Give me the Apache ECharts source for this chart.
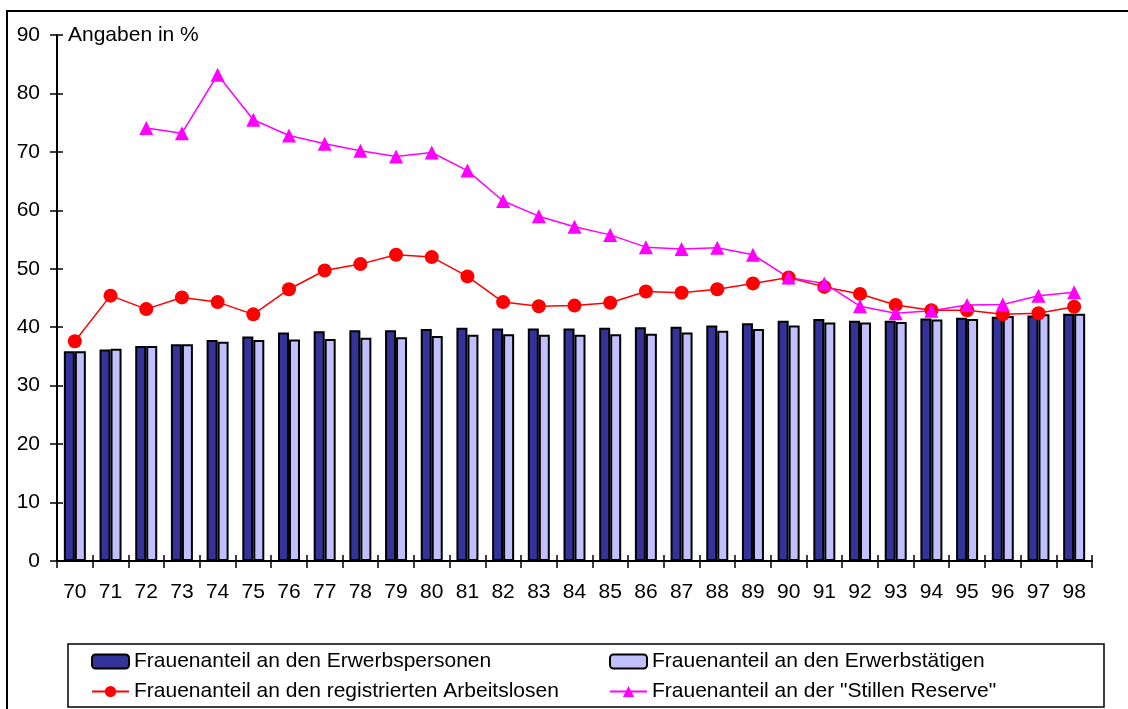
<!DOCTYPE html>
<html>
<head>
<meta charset="utf-8">
<style>
  html, body { margin: 0; padding: 0; background: #fff; }
  #chart { width: 1128px; height: 709px; }
</style>
<script src="https://cdn.jsdelivr.net/npm/echarts@6/dist/echarts.min.js"></script>
</head>
<body>
<div id="chart"></div>
<script>
// Jahre (19xx)
const years = ['70','71','72','73','74','75','76','77','78','79','80','81','82','83','84','85','86','87','88','89','90','91','92','93','94','95','96','97','98']

// Angaben in %
const erwerbspersonen = [35.9,36.2,36.8,37.1,37.8,38.4,39.1,39.3,39.5,39.5,39.7,39.9,39.8,39.8,39.8,39.9,40.0,40.1,40.3,40.7,41.1,41.4,41.1,41.1,41.5,41.6,41.8,42.0,42.3]
const erwerbstaetige = [35.9,36.3,36.8,37.1,37.5,37.8,37.9,38.0,38.2,38.3,38.5,38.7,38.8,38.7,38.7,38.8,38.9,39.1,39.4,39.7,40.3,40.8,40.8,40.9,41.3,41.4,41.9,42.2,42.3]
const arbeitslose = [37.6,45.4,43.1,45.1,44.3,42.2,46.5,49.7,50.8,52.4,52.0,48.7,44.3,43.6,43.7,44.2,46.1,45.9,46.5,47.5,48.5,46.9,45.7,43.8,42.9,42.9,42.2,42.4,43.5]
const stilleReserve = [null,null,74.1,73.2,83.2,75.5,72.8,71.4,70.2,69.2,69.9,66.8,61.6,59.0,57.2,55.8,53.7,53.4,53.6,52.4,48.5,47.5,43.6,42.4,42.8,43.8,43.9,45.4,46.0]

const names = [
  'Frauenanteil an den Erwerbspersonen',
  'Frauenanteil an den Erwerbstätigen',
  'Frauenanteil an den registrierten Arbeitslosen',
  'Frauenanteil an der "Stillen Reserve"'
]

const font = 'Liberation Sans, Arial, sans-serif'
const chart = echarts.init(document.getElementById('chart'))

chart.setOption({
  animation: false,
  textStyle: { fontFamily: font },
  grid: { left: 57, right: 36, top: 35, bottom: 148 },
  graphic: [
    // Rahmen
    { type: 'rect', shape: { x: 7, y: 11, width: 1140, height: 720 },
      style: { fill: 'none', stroke: '#000', lineWidth: 2 } },
    // Legendenkasten
    { type: 'rect', shape: { x: 68, y: 644, width: 1036, height: 63 },
      style: { fill: 'none', stroke: '#000', lineWidth: 1.5 } }
  ],
  legend: [
    {
      data: [names[0], names[2]],
      orient: 'vertical',
      left: 91, top: 651,
      padding: 0,
      itemWidth: 37, itemHeight: 14,
      itemGap: 9, itemTextGap: 4,
      textStyle: { fontSize: 21, lineHeight: 20, color: '#000', fontFamily: font }
    },
    {
      data: [names[1], names[3]],
      orient: 'vertical',
      left: 609, top: 651,
      padding: 0,
      itemWidth: 37, itemHeight: 14,
      itemGap: 9, itemTextGap: 4,
      textStyle: { fontSize: 21, lineHeight: 20, color: '#000', fontFamily: font }
    }
  ],
  xAxis: [
    {
      type: 'category',
      data: years,
      axisLine: { lineStyle: { color: '#000', width: 2 } },
      axisTick: { show: true, length: 7, lineStyle: { color: '#000', width: 1.5 } },
      axisLabel: { color: '#000', fontSize: 21, margin: 21, fontFamily: font },
      splitLine: { show: false }
    },
    {
      type: 'category',
      data: years,
      position: 'bottom',
      axisLine: { show: false },
      axisTick: { show: true, inside: true, length: 6, lineStyle: { color: '#000', width: 1.5 } },
      axisLabel: { show: false },
      splitLine: { show: false }
    }
  ],
  yAxis: [
    {
      type: 'value',
      min: 0, max: 90, interval: 10,
      name: 'Angaben in %',
      nameLocation: 'end',
      nameGap: 0,
      nameTextStyle: { color: '#000', fontSize: 21, align: 'left', verticalAlign: 'middle', padding: [0, 0, 0, 11], fontFamily: font },
      axisLine: { show: true, lineStyle: { color: '#000', width: 2 } },
      axisTick: { show: true, length: 7, lineStyle: { color: '#000', width: 1.5 } },
      axisLabel: { color: '#000', fontSize: 21, margin: 17, fontFamily: font },
      splitLine: { show: false }
    },
    {
      type: 'value',
      min: 0, max: 90, interval: 10,
      position: 'left',
      axisLine: { show: false },
      axisTick: { show: true, inside: true, length: 6, lineStyle: { color: '#000', width: 1.5 } },
      axisLabel: { show: false },
      splitLine: { show: false }
    }
  ],
  series: [
    {
      name: names[0],
      type: 'bar',
      data: erwerbspersonen,
      barWidth: 11,
      barGap: '0%',
      itemStyle: { color: '#333399', borderColor: '#000', borderWidth: 2 }
    },
    {
      name: names[1],
      type: 'bar',
      data: erwerbstaetige,
      barWidth: 11,
      barGap: '0%',
      itemStyle: { color: '#C0C0FF', borderColor: '#000', borderWidth: 2 }
    },
    {
      name: names[2],
      type: 'line',
      data: arbeitslose,
      symbol: 'circle',
      symbolSize: 14,
      itemStyle: { color: '#FF0000' },
      lineStyle: { color: '#FF0000', width: 1.5 }
    },
    {
      name: names[3],
      type: 'line',
      data: stilleReserve,
      symbol: 'triangle',
      symbolSize: 14,
      itemStyle: { color: '#FF00FF' },
      lineStyle: { color: '#FF00FF', width: 1.5 }
    }
  ]
})
</script>
</body>
</html>
